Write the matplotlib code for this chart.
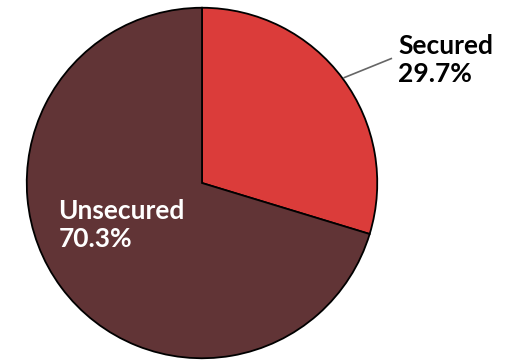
import numpy as np
import matplotlib.pyplot as plt

labels = ["Secured", "Unsecured"]
shares = [29.7, 70.3]
colors = ["#DB3C3A", "#613436"]

fig = plt.figure(figsize=(5.31, 3.63), dpi=100)
ax = fig.add_axes([25 / 531, 3 / 363, 354 / 531, 354 / 363])

wedges, _ = ax.pie(shares, colors=colors, startangle=90, counterclock=False,
                   radius=1.0, wedgeprops=dict(edgecolor="black", linewidth=1.3))
ax.set_xlim(-1.01, 1.01)
ax.set_ylim(-1.01, 1.01)
ax.set_aspect("equal")
ax.axis("off")

# Secured label with leader line
mid = np.deg2rad(90 - shares[0] / 100 * 360 / 2)
ax.plot([np.cos(mid) * 1.01, 1.08], [np.sin(mid) * 1.01, 0.71],
        color="#666666", linewidth=1.2, clip_on=False)
ax.text(1.12, 0.70, f"{labels[0]}\n{shares[0]:.1f}%", ha="left", va="center",
        fontsize=19, fontweight="bold", family="Lato", color="black",
        linespacing=1.2)

ax.text(-0.82, -0.24, f"{labels[1]}\n{shares[1]:.1f}%", ha="left", va="center",
        fontsize=19, fontweight="bold", family="Lato", color="white",
        linespacing=1.2)

fig.savefig("out.png", dpi=100)
